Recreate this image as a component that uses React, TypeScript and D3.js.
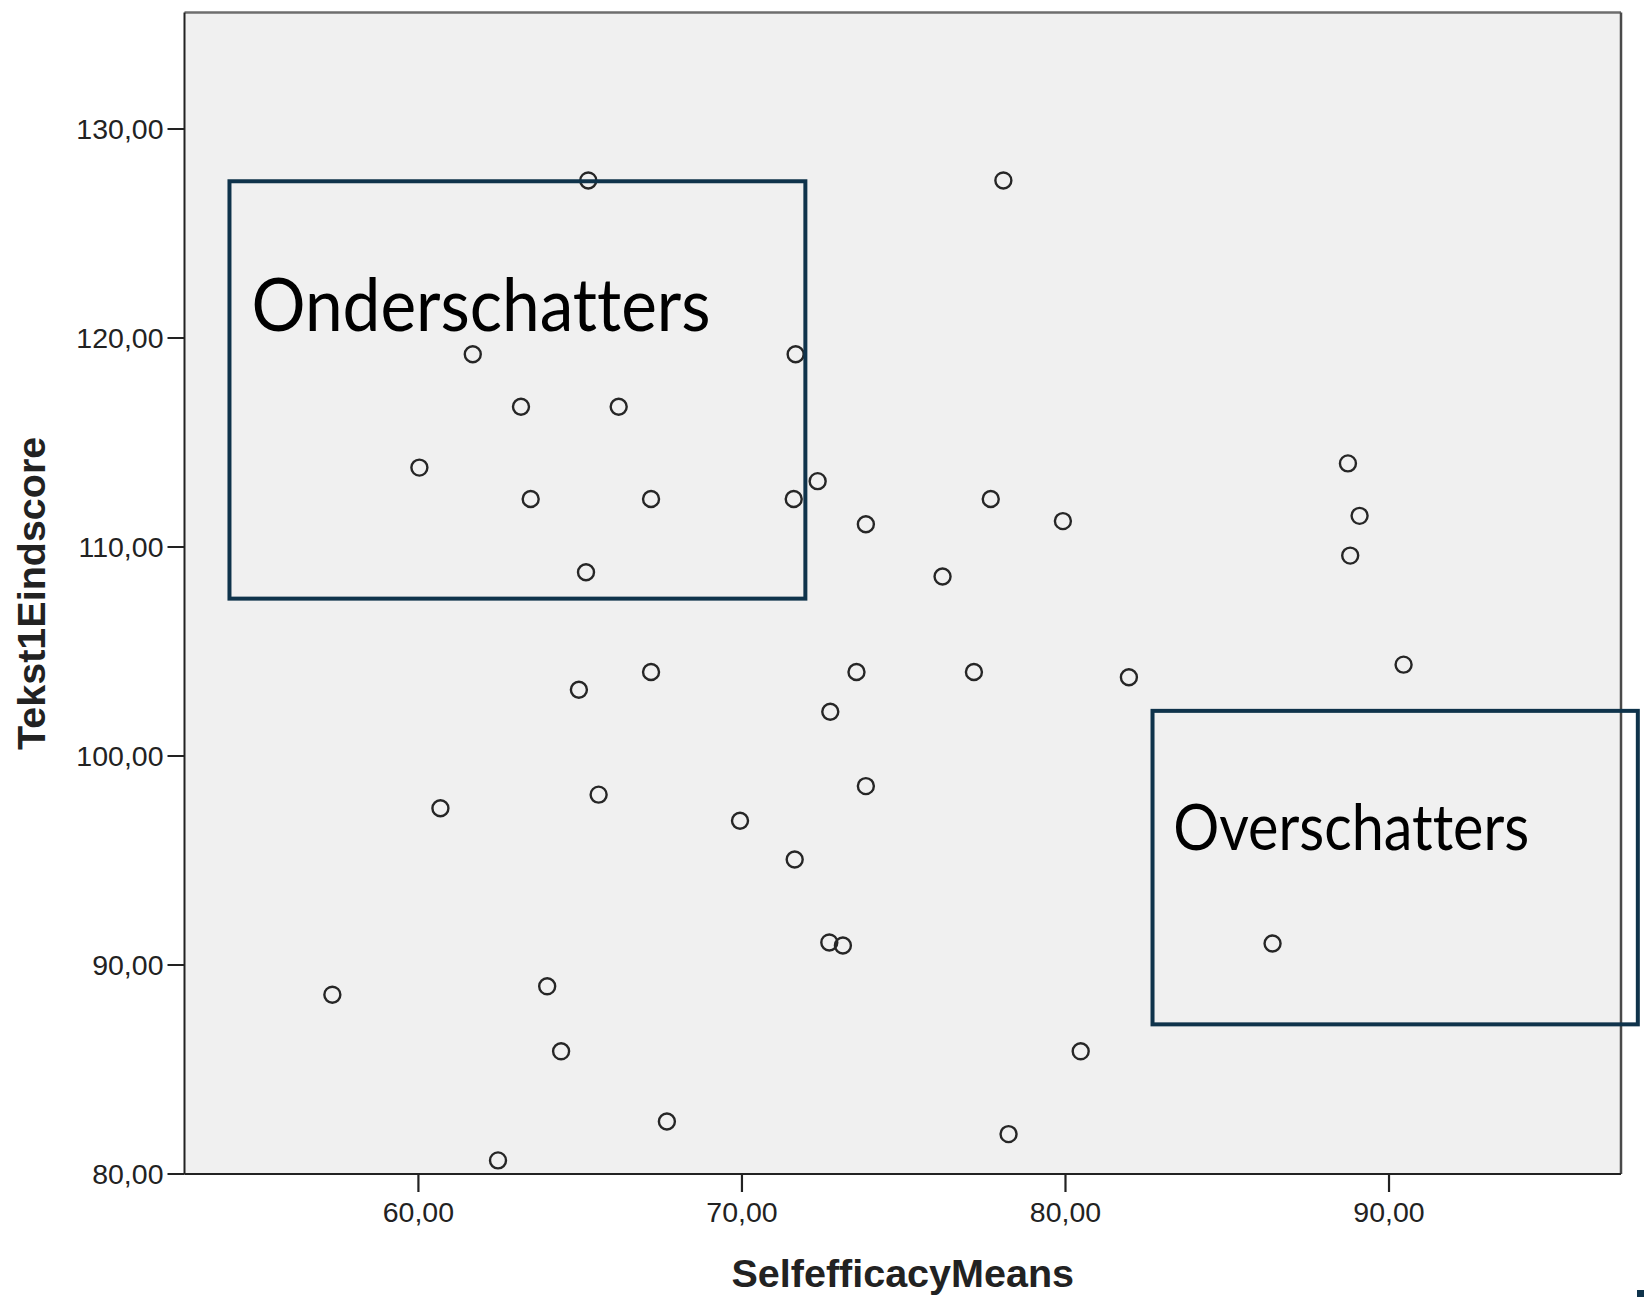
import React from "react";
import * as d3 from "d3";

// ---- data ----
const selfEfficacy = [
  65.25, 78.08, 61.68, 71.66, 63.17, 66.19, 60.03, 63.47, 67.19, 71.6,
  72.34, 77.69, 73.83, 79.92, 88.73, 89.09, 88.8, 65.18, 76.2, 90.45,
  64.96, 67.19, 73.54, 77.17, 81.96, 72.73, 73.83, 60.68, 65.57, 69.94,
  71.63, 72.7, 73.12, 86.4, 57.34, 63.98, 64.41, 80.47, 67.68, 78.24, 62.46,
];
const tekstScore = [
  127.54, 127.54, 119.22, 119.22, 116.71, 116.71, 113.8, 112.3, 112.3, 112.3,
  113.15, 112.3, 111.09, 111.24, 114.0, 111.49, 109.59, 108.79, 108.59, 104.37,
  103.17, 104.02, 104.02, 104.02, 103.77, 102.12, 98.56, 97.5, 98.15, 96.9,
  95.05, 91.08, 90.93, 91.03, 88.58, 88.98, 85.87, 85.87, 82.51, 81.91, 80.65,
];
const xTicks = [60, 70, 80, 90];
const yTicks = [80, 90, 100, 110, 120, 130];
const xDomain = [52.77, 97.17];
const yDomain = [80, 135.57];

// annotation boxes in data units
const boxLabels = ["Onderschatters", "Overschatters"];
const boxX0 = [54.16, 82.69];
const boxX1 = [71.96, 97.69];
const boxY0 = [107.53, 87.16];
const boxY1 = [127.5, 102.16];
const labelX = [54.84, 83.33];
const labelY = [120.33, 95.5];

const W = 1644;
const H = 1297;
const PL = 184.5, PR = 1621, PT = 12.6, PB = 1174;

const fmt = (v: number) => v.toFixed(2).replace(".", ",");

export default function App() {
  const x = d3.scaleLinear().domain(xDomain).range([PL, PR]);
  const y = d3.scaleLinear().domain(yDomain).range([PB, PT]);
  const pts = selfEfficacy.map((v, i) => [v, tekstScore[i]]);
  const axisFont = "'Liberation Sans', Arial, sans-serif";
  const boxColor = "#0f334b";
  const labelSizes = [74, 64];
  const labelLens = [459, 356];

  return (
    <svg
      width={W}
      height={H}
      style={{ position: "absolute", left: 0, top: 0, background: "#fff" }}
    >
      <rect x={PL} y={PT} width={PR - PL} height={PB - PT} fill="#f0f0f0" />
      {/* frame */}
      <line x1={PL} y1={PT} x2={PR} y2={PT} stroke="#6e6e6e" strokeWidth={2.5} />
      <line x1={PR} y1={PT} x2={PR} y2={PB} stroke="#4a4a4a" strokeWidth={2.5} />
      <line x1={PL} y1={PT} x2={PL} y2={PB} stroke="#222" strokeWidth={2} />
      <line x1={PL} y1={PB} x2={PR} y2={PB} stroke="#222" strokeWidth={2} />

      {/* y axis ticks */}
      {yTicks.map((t) => (
        <g key={"y" + t}>
          <line x1={PL - 17} x2={PL} y1={y(t)} y2={y(t)} stroke="#222" strokeWidth={2} />
          <text
            x={PL - 21}
            y={y(t)}
            textAnchor="end"
            dominantBaseline="central"
            fontFamily={axisFont}
            fontSize={28.5}
            fill="#222"
          >
            {fmt(t)}
          </text>
        </g>
      ))}
      {/* x axis ticks */}
      {xTicks.map((t) => (
        <g key={"x" + t}>
          <line x1={x(t)} x2={x(t)} y1={PB} y2={PB + 18} stroke="#222" strokeWidth={2.2} />
          <text
            x={x(t)}
            y={1222}
            textAnchor="middle"
            fontFamily={axisFont}
            fontSize={28.5}
            fill="#222"
          >
            {fmt(t)}
          </text>
        </g>
      ))}

      {/* axis titles */}
      <text
        x={(PL + PR) / 2}
        y={1287}
        textAnchor="middle"
        fontFamily={axisFont}
        fontWeight="bold"
        fontSize={39.5}
        fill="#222"
      >
        SelfefficacyMeans
      </text>
      <text
        transform={`translate(${45},${(PT + PB) / 2}) rotate(-90)`}
        textAnchor="middle"
        fontFamily={axisFont}
        fontWeight="bold"
        fontSize={39.5}
        fill="#222"
      >
        Tekst1Eindscore
      </text>

      {/* points */}
      {pts.map(([a, b], i) => (
        <circle
          key={i}
          cx={x(a)}
          cy={y(b)}
          r={8}
          fill="none"
          stroke="#262626"
          strokeWidth={2.4}
        />
      ))}

      {/* annotation boxes */}
      {boxLabels.map((lab, i) => (
        <g key={lab}>
          <rect
            x={x(boxX0[i])}
            y={y(boxY1[i])}
            width={x(boxX1[i]) - x(boxX0[i])}
            height={y(boxY0[i]) - y(boxY1[i])}
            fill="none"
            stroke={boxColor}
            strokeWidth={4}
          />
          <text
            x={x(labelX[i])}
            y={y(labelY[i])}
            fontFamily="Lato, 'Open Sans', sans-serif"
            fontSize={labelSizes[i]}
            textLength={labelLens[i]}
            lengthAdjust="spacingAndGlyphs"
            style={{
              fontVariantLigatures: "none",
              fontFeatureSettings: "'liga' 0, 'clig' 0, 'dlig' 0, 'calt' 0",
              letterSpacing: "0.001px",
            }}
            fill="#000"
          >
            {lab}
          </text>
        </g>
      ))}
      <rect x={1637} y={1290} width={7} height={7} fill={boxColor} />
    </svg>
  );
}
